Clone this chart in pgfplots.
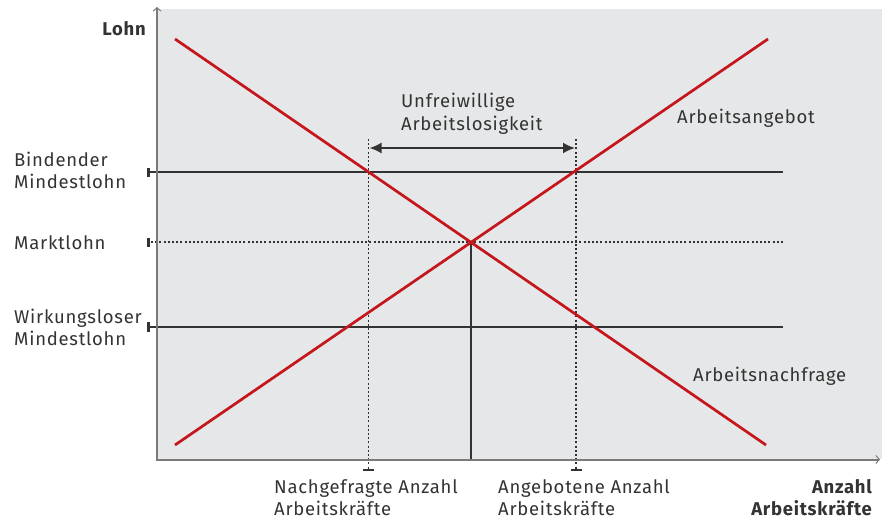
\documentclass[border=0pt]{standalone}
\usepackage{pgfplots}
\pgfplotsset{compat=1.18}
\usetikzlibrary{arrows.meta}
\usepackage{fontspec}
\setmainfont{Fira Sans}[LetterSpace=4]
\definecolor{bggray}{HTML}{E6E7E8}
\definecolor{curvered}{HTML}{C4161C}
\definecolor{linegray}{HTML}{333333}
\definecolor{axisgray}{HTML}{7A7A7A}
\definecolor{txt}{HTML}{333333}
\begin{document}
\begin{tikzpicture}[font=\fontsize{18.5}{22}\selectfont, every node/.style={text=txt, inner sep=0pt}]
\begin{axis}[
  width=882pt, height=519pt, scale only axis,
  xmin=0, xmax=882, ymin=0, ymax=519, y dir=reverse,
  hide axis, clip=false]
% bounding box
\path (axis cs:0,0) rectangle (axis cs:882,519);
% background
\addplot[fill=bggray, draw=none] coordinates {(157,9) (882,9) (882,459) (157,459)} -- cycle;
% horizontal wage lines
\addplot[linegray, line width=2pt] coordinates {(148,172) (783,172)};
\addplot[linegray, line width=2pt] coordinates {(148,327) (783,327)};
\addplot[linegray, line width=1.9pt, dash pattern=on 2pt off 2.2pt] coordinates {(151,242) (783,242)};
% left tick caps
\addplot[linegray, line width=2.4pt] coordinates {(148.5,167.5) (148.5,177)};
\addplot[linegray, line width=2.4pt] coordinates {(148.5,322) (148.5,332)};
\addplot[linegray, line width=2.4pt] coordinates {(148.5,237.5) (148.5,247)};
% vertical dotted lines
\addplot[linegray, line width=1.9pt, dash pattern=on 2pt off 2.2pt] coordinates {(368.5,139) (368.5,469)};
\addplot[linegray, line width=1.9pt, dash pattern=on 2pt off 2.2pt] coordinates {(576,139) (576,469)};
% bottom tick caps
\addplot[linegray, line width=2.4pt] coordinates {(363,470) (374,470)};
\addplot[linegray, line width=2.4pt] coordinates {(571,470) (582,470)};
% vertical solid line at equilibrium
\addplot[linegray, line width=1.8pt] coordinates {(471,242) (471,459)};
% curves
\addplot[curvered, line width=2.7pt] coordinates {(175,39) (766,445)};
\addplot[curvered, line width=2.7pt] coordinates {(175,445) (768,39)};
% double arrow
\addplot[linegray, line width=1.8pt, {Latex[length=12pt,width=11pt]}-{Latex[length=12pt,width=11pt]}] coordinates {(369.5,148) (575,148)};
% axes
\addplot[axisgray, line width=2pt, -{Straight Barb[length=3.5pt,width=8pt,line width=1pt]}] coordinates {(157,460) (157,7)};
\addplot[axisgray, line width=2pt, -{Straight Barb[length=3.5pt,width=8pt,line width=1pt]}] coordinates {(156,459.5) (880,459.5)};
% labels
\node[anchor=base east, font=\fontsize{18.5}{22}\selectfont\bfseries] at (axis cs:146,36) {Lohn};
\node[anchor=base west] at (axis cs:14,166) {Bindender};
\node[anchor=base west] at (axis cs:14,188) {Mindestlohn};
\node[anchor=base west] at (axis cs:14,249) {Marktlohn};
\node[anchor=base west] at (axis cs:14,323) {Wirkungsloser};
\node[anchor=base west] at (axis cs:14,345) {Mindestlohn};
\node[anchor=base west] at (axis cs:401,107) {Unfreiwillige};
\node[anchor=base west] at (axis cs:401,130) {Arbeitslosigkeit};
\node[anchor=base west] at (axis cs:677,123) {Arbeitsangebot};
\node[anchor=base west] at (axis cs:693,381) {Arbeitsnachfrage};
\node[anchor=base west] at (axis cs:274,493) {Nachgefragte Anzahl};
\node[anchor=base west] at (axis cs:274,515) {Arbeitskräfte};
\node[anchor=base west] at (axis cs:498,493) {Angebotene Anzahl};
\node[anchor=base west] at (axis cs:498,515) {Arbeitskräfte};
\node[anchor=base east, font=\fontsize{18.5}{22}\selectfont\bfseries] at (axis cs:872,493) {Anzahl};
\node[anchor=base east, font=\fontsize{18.5}{22}\selectfont\bfseries] at (axis cs:872,515) {Arbeitskräfte};
\end{axis}
\end{tikzpicture}
\end{document}
